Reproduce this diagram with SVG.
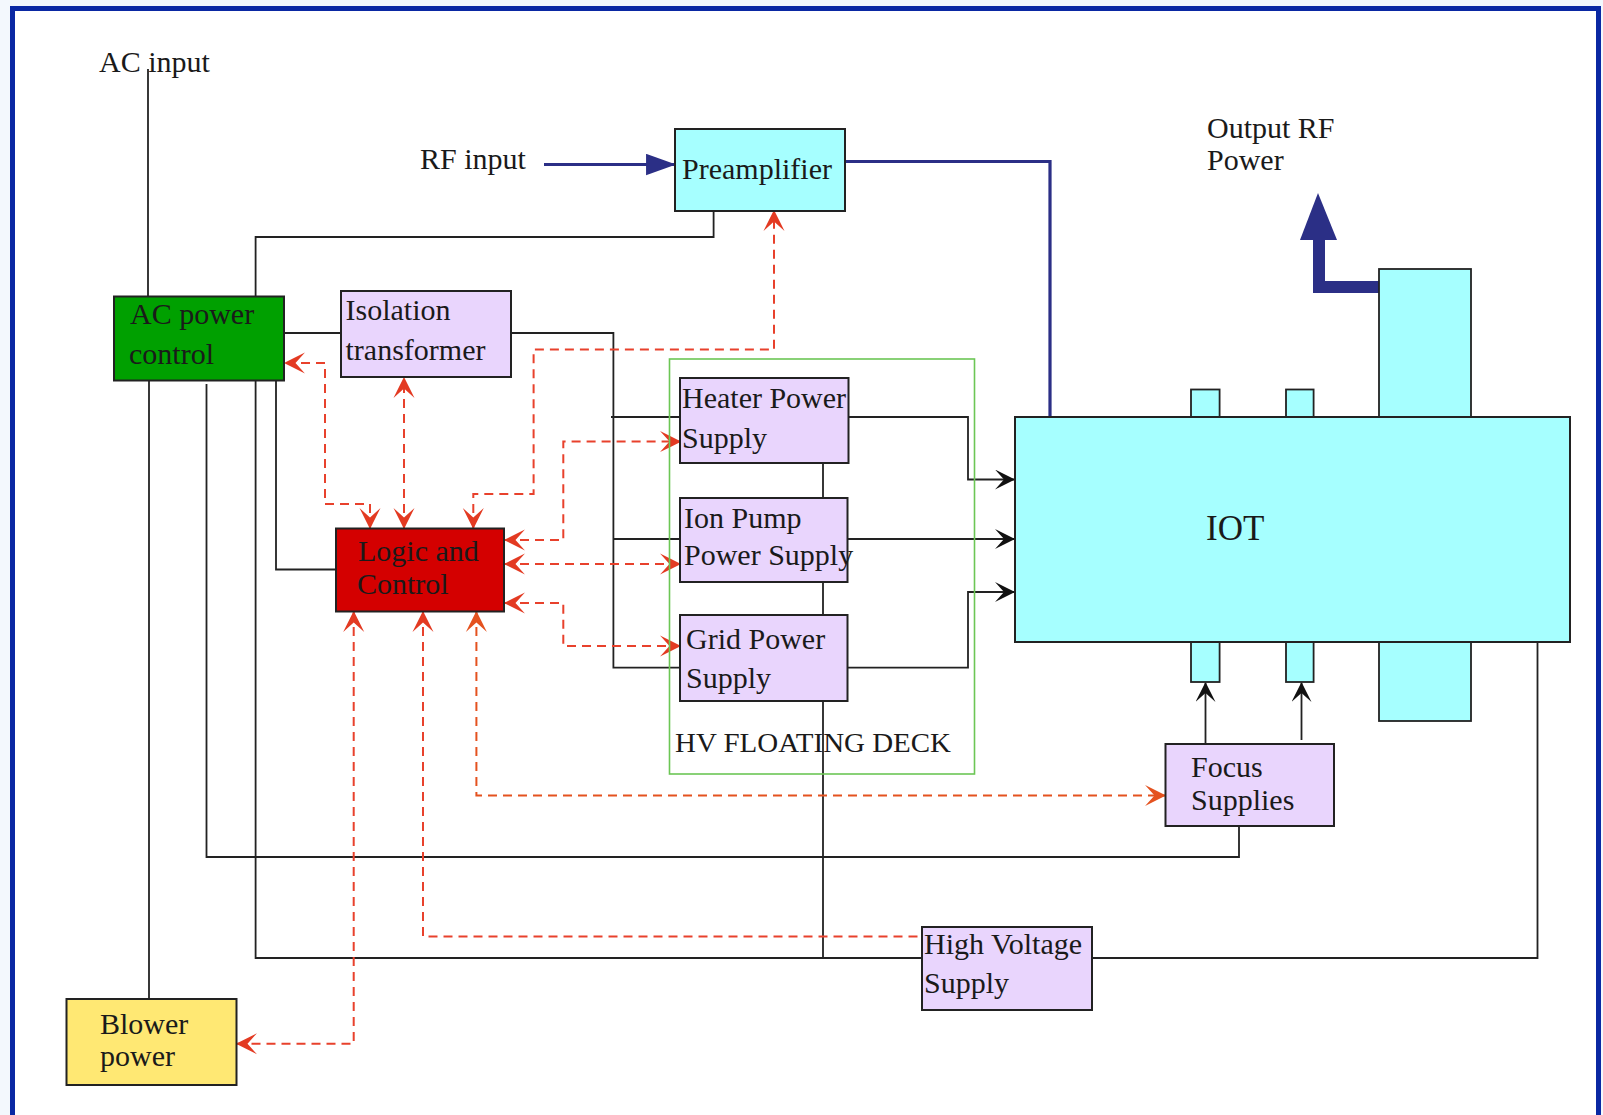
<svg xmlns="http://www.w3.org/2000/svg" width="1603" height="1115" viewBox="0 0 1603 1115">
<defs>
<style>
.t{font-family:"Liberation Serif","DejaVu Serif",serif;font-size:30px;fill:#1a1a1a}
.box{stroke:#222;stroke-width:2}
.cy{fill:#a6ffff}
.lv{fill:#e9d5fd}
.w{fill:none;stroke:#222;stroke-width:1.8}
.r{fill:none;stroke:#e8412c;stroke-width:2;stroke-dasharray:9,6}
.b{fill:none;stroke:#2b2f86;stroke-width:3.2}
</style>
<marker id="ra" viewBox="0 0 20 20" refX="19" refY="10" markerWidth="21" markerHeight="22" markerUnits="userSpaceOnUse" orient="auto-start-reverse">
<path d="M0,0 Q10,5 20,10 Q10,15 0,20 L9,10 Z" fill="#e33a22"/>
</marker>
<marker id="ro" viewBox="0 0 20 20" refX="19" refY="10" markerWidth="21" markerHeight="22" markerUnits="userSpaceOnUse" orient="auto-start-reverse">
<path d="M0,0 Q10,5 20,10 Q10,15 0,20 L9,10 Z" fill="#e4521f"/>
</marker>
<marker id="ka" viewBox="0 0 20 20" refX="19" refY="10" markerWidth="21" markerHeight="20" markerUnits="userSpaceOnUse" orient="auto">
<path d="M0,0 Q10,5 20,10 Q10,15 0,20 L9,10 Z" fill="#111"/>
</marker>
<marker id="ba" viewBox="0 0 28 20" refX="27" refY="10" markerWidth="30" markerHeight="22" markerUnits="userSpaceOnUse" orient="auto">
<path d="M0,0 L28,10 L0,20 Z" fill="#2b2f86"/>
</marker>
</defs>
<rect x="0" y="0" width="1603" height="1115" fill="#f3f8fd"/>
<rect x="12.5" y="8.5" width="1586" height="1200" fill="#fff" stroke="#0a28a3" stroke-width="5"/>

<g id="labels">
<text class="t" x="99" y="71.5">AC input</text>
<text class="t" x="420" y="168.5">RF input</text>
<text class="t" x="1207" y="138">Output RF</text>
<text class="t" x="1207" y="170">Power</text>
</g>

<g id="connectors">
<!-- blue -->
<path class="b" d="M544,164.5 H675" marker-end="url(#ba)"/>
<path class="b" d="M845,161.5 H1050 V417"/>
<path d="M1379,287 H1319 V238" fill="none" stroke="#2b2f86" stroke-width="12"/>
<path d="M1300,240 L1337,240 L1318,193 Z" fill="#2b2f86"/>
<!-- black -->
<path class="w" d="M148,69 V296"/>
<path class="w" d="M255.6,296 V237 H713.6 V210.5"/>
<path class="w" d="M284,333 H341"/>
<path class="w" d="M511,333 H613.4 V667.6 H680"/>
<path class="w" d="M611,417 H680"/>
<path class="w" d="M613.4,539 H680"/>
<path class="w" d="M848.5,417 H968 V479.5 H1014" marker-end="url(#ka)"/>
<path class="w" d="M847.5,539 H1014" marker-end="url(#ka)"/>
<path class="w" d="M847.5,667.6 H968 V592 H1014" marker-end="url(#ka)"/>
<path class="w" d="M823,463 V498 M823,582 V615 M823,701 V958"/>
<path class="w" d="M149,380 V999"/>
<path class="w" d="M206.5,384 V857 H1239 V826"/>
<path class="w" d="M255.6,380 V958 H922 M1092,958 H1537.5 V642"/>
<path class="w" d="M276,380 V569.5 H336"/>
<path class="w" d="M1205.5,744 V683" marker-end="url(#ka)"/>
<path class="w" d="M1301.5,740 V683" marker-end="url(#ka)"/>
<!-- red dashed -->
<path class="r" d="M370,528 V504 H325 V363 H285" marker-start="url(#ra)" marker-end="url(#ra)"/>
<path class="r" d="M404,528 V378" marker-start="url(#ra)" marker-end="url(#ra)"/>
<path class="r" d="M473.3,528 V494 H533.6 V349.6 H774 V211" marker-start="url(#ra)" marker-end="url(#ra)"/>
<path class="r" d="M505,540 H563.3 V441.6 H680" marker-start="url(#ra)" marker-end="url(#ra)"/>
<path class="r" d="M505,564 H680" marker-start="url(#ra)" marker-end="url(#ra)"/>
<path class="r" d="M505,603 H563.3 V646 H680" marker-start="url(#ra)" marker-end="url(#ra)"/>
<path class="r" d="M476.4,612 V795.4 H1165" style="stroke:#e4521f" marker-start="url(#ro)" marker-end="url(#ro)"/>
<path class="r" d="M423,612 V936.5 H922" marker-start="url(#ra)"/>
<path class="r" d="M353.7,612 V1043.8 H237" marker-start="url(#ra)" marker-end="url(#ra)"/>
</g>

<g id="ac-power-control">
<rect class="box" x="114" y="296.5" width="170" height="84" fill="#00a000"/>
<text class="t" x="130" y="324">AC power</text>
<text class="t" x="129" y="364">control</text>
</g>
<g id="isolation-transformer">
<rect class="box lv" x="341" y="291" width="170" height="86"/>
<text class="t" x="345.5" y="320">Isolation</text>
<text class="t" x="345.5" y="360">transformer</text>
</g>
<g id="preamplifier">
<rect class="box cy" x="675" y="129" width="170" height="82"/>
<text class="t" x="682" y="179">Preamplifier</text>
</g>
<g id="logic-and-control">
<rect class="box" x="336" y="528.5" width="168" height="83" fill="#d40000"/>
<text class="t" x="358" y="561">Logic and</text>
<text class="t" x="357" y="594">Control</text>
</g>
<g id="hv-floating-deck">
<rect x="669.5" y="359" width="305" height="415" fill="none" stroke="#6cc655" stroke-width="1.6"/>
<text class="t" x="675" y="751.5" style="font-size:27px" textLength="276" lengthAdjust="spacingAndGlyphs">HV FLOATING DECK</text>
</g>
<g id="heater-power-supply">
<rect class="box lv" x="680" y="378" width="168.5" height="85"/>
<text class="t" x="682" y="408">Heater Power</text>
<text class="t" x="682" y="448">Supply</text>
</g>
<g id="ion-pump-power-supply">
<rect class="box lv" x="680" y="498" width="167.5" height="84"/>
<text class="t" x="684" y="527.5">Ion Pump</text>
<text class="t" x="684" y="565">Power Supply</text>
</g>
<g id="grid-power-supply">
<rect class="box lv" x="680" y="615" width="167.5" height="86"/>
<text class="t" x="686" y="649">Grid Power</text>
<text class="t" x="686" y="688">Supply</text>
</g>
<g id="iot">
<rect class="box cy" x="1379" y="269" width="92" height="148" style="stroke-width:1.8"/>
<rect class="box cy" x="1191" y="389.5" width="28.6" height="27.5" style="stroke-width:1.8"/>
<rect class="box cy" x="1286" y="389.5" width="27.6" height="27.5" style="stroke-width:1.8"/>
<rect class="box cy" x="1379" y="642" width="92" height="79" style="stroke-width:1.8"/>
<rect class="box cy" x="1191" y="642" width="28.6" height="40" style="stroke-width:1.8"/>
<rect class="box cy" x="1286" y="642" width="27.6" height="40" style="stroke-width:1.8"/>
<rect class="box cy" x="1015" y="417" width="555" height="225"/>
<text class="t" x="1206" y="540" style="font-size:35px">IOT</text>
</g>
<g id="focus-supplies">
<rect class="box lv" x="1165.5" y="744" width="168.5" height="82"/>
<text class="t" x="1191" y="777">Focus</text>
<text class="t" x="1191" y="810">Supplies</text>
</g>
<g id="high-voltage-supply">
<rect class="box lv" x="922" y="927" width="170" height="83"/>
<text class="t" x="924" y="954">High Voltage</text>
<text class="t" x="924" y="993">Supply</text>
</g>
<g id="blower-power">
<rect class="box" x="66.5" y="999" width="170" height="86" fill="#ffe873"/>
<text class="t" x="100" y="1033.5">Blower</text>
<text class="t" x="100" y="1066">power</text>
</g>
</svg>
